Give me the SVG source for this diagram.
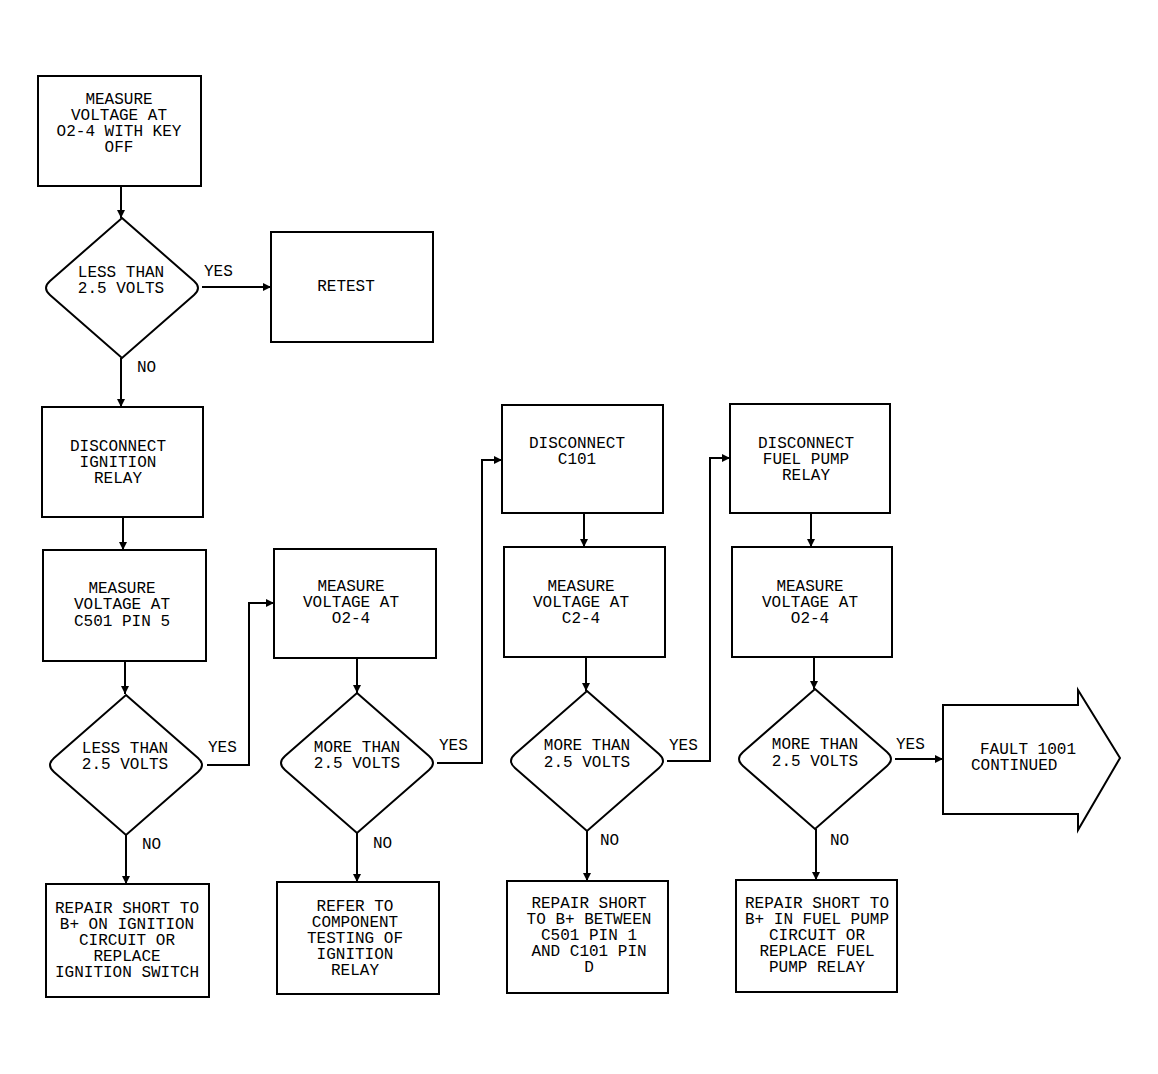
<svg xmlns="http://www.w3.org/2000/svg" xmlns:xlink="http://www.w3.org/1999/xlink" width="1158" height="1074" viewBox="0 0 1158 1074">
<style>
.box{fill:#fff;stroke:#000;stroke-width:2}
.t{font-family:"Liberation Mono","DejaVu Sans Mono",monospace;font-size:16px;fill:#000;text-anchor:middle}
.l{font-family:"Liberation Mono","DejaVu Sans Mono",monospace;font-size:16px;fill:#000}
.c{fill:none;stroke:#000;stroke-width:2}
</style>
<defs>
<marker id="ah" markerUnits="userSpaceOnUse" markerWidth="9" markerHeight="8" refX="8" refY="4" orient="auto">
<path d="M0,0 L8,4 L0,8 z" fill="#000"/>
</marker>
<path id="dia" d="M0,-70 L72,-7 Q80,0 72,7 L0,70 L-72,7 Q-80,0 -72,-7 Z"/>
</defs>
<rect width="1158" height="1074" fill="#fff"/>

<g id="connectors">
<path class="c" d="M121,186 V218" marker-end="url(#ah)"/>
<path class="c" d="M202,287 H271" marker-end="url(#ah)"/>
<path class="c" d="M121,358 V407" marker-end="url(#ah)"/>
<path class="c" d="M123,517 V550" marker-end="url(#ah)"/>
<path class="c" d="M125,661 V694" marker-end="url(#ah)"/>
<path class="c" d="M207,765 H249 V603 H274" marker-end="url(#ah)"/>
<path class="c" d="M126,835 V884" marker-end="url(#ah)"/>
<path class="c" d="M357,658 V693" marker-end="url(#ah)"/>
<path class="c" d="M437,763 H482 V460 H502" marker-end="url(#ah)"/>
<path class="c" d="M357,833 V882" marker-end="url(#ah)"/>
<path class="c" d="M584,513 V547" marker-end="url(#ah)"/>
<path class="c" d="M586,657 V691" marker-end="url(#ah)"/>
<path class="c" d="M667,761 H710 V458 H730" marker-end="url(#ah)"/>
<path class="c" d="M587,831 V881" marker-end="url(#ah)"/>
<path class="c" d="M811,513 V547" marker-end="url(#ah)"/>
<path class="c" d="M814,657 V689" marker-end="url(#ah)"/>
<path class="c" d="M895,759 H943" marker-end="url(#ah)"/>
<path class="c" d="M816,829 V880" marker-end="url(#ah)"/>
<text class="l" x="204" y="276">YES</text>
<text class="l" x="137" y="372">NO</text>
<text class="l" x="208" y="752">YES</text>
<text class="l" x="142" y="849">NO</text>
<text class="l" x="439" y="750">YES</text>
<text class="l" x="373" y="848">NO</text>
<text class="l" x="669" y="750">YES</text>
<text class="l" x="600" y="845">NO</text>
<text class="l" x="896" y="749">YES</text>
<text class="l" x="830" y="845">NO</text>
</g>

<g id="n1">
<rect class="box" x="38" y="76" width="163" height="110"/>
<text class="t" x="119" y="104">MEASURE</text>
<text class="t" x="119" y="120">VOLTAGE AT</text>
<text class="t" x="119" y="136">O2-4 WITH KEY</text>
<text class="t" x="119" y="152">OFF</text>
</g>
<g id="d1">
<use href="#dia" x="122" y="288" class="box"/>
<text class="t" x="121" y="277">LESS THAN</text>
<text class="t" x="121" y="293">2.5 VOLTS</text>
</g>
<g id="retest">
<rect class="box" x="271" y="232" width="162" height="110"/>
<text class="t" x="346" y="291">RETEST</text>
</g>
<g id="n2">
<rect class="box" x="42" y="407" width="161" height="110"/>
<text class="t" x="118" y="451">DISCONNECT</text>
<text class="t" x="118" y="467">IGNITION</text>
<text class="t" x="118" y="483">RELAY</text>
</g>
<g id="n3">
<rect class="box" x="43" y="550" width="163" height="111"/>
<text class="t" x="122" y="593">MEASURE</text>
<text class="t" x="122" y="609">VOLTAGE AT</text>
<text class="t" x="122" y="626">C501 PIN 5</text>
</g>
<g id="d2">
<use href="#dia" x="126" y="765" class="box"/>
<text class="t" x="125" y="753">LESS THAN</text>
<text class="t" x="125" y="769">2.5 VOLTS</text>
</g>
<g id="r1">
<rect class="box" x="46" y="884" width="163" height="113"/>
<text class="t" x="127" y="913">REPAIR SHORT TO</text>
<text class="t" x="127" y="929">B+ ON IGNITION</text>
<text class="t" x="127" y="945">CIRCUIT OR</text>
<text class="t" x="127" y="961">REPLACE</text>
<text class="t" x="127" y="977">IGNITION SWITCH</text>
</g>
<g id="n4">
<rect class="box" x="274" y="549" width="162" height="109"/>
<text class="t" x="351" y="591">MEASURE</text>
<text class="t" x="351" y="607">VOLTAGE AT</text>
<text class="t" x="351" y="623">O2-4</text>
</g>
<g id="d3">
<use href="#dia" x="357" y="763" class="box"/>
<text class="t" x="357" y="752">MORE THAN</text>
<text class="t" x="357" y="768">2.5 VOLTS</text>
</g>
<g id="r2">
<rect class="box" x="277" y="882" width="162" height="112"/>
<text class="t" x="355" y="911">REFER TO</text>
<text class="t" x="355" y="927">COMPONENT</text>
<text class="t" x="355" y="943">TESTING OF</text>
<text class="t" x="355" y="959">IGNITION</text>
<text class="t" x="355" y="975">RELAY</text>
</g>
<g id="n5">
<rect class="box" x="502" y="405" width="161" height="108"/>
<text class="t" x="577" y="448">DISCONNECT</text>
<text class="t" x="577" y="464">C101</text>
</g>
<g id="n6">
<rect class="box" x="504" y="547" width="161" height="110"/>
<text class="t" x="581" y="591">MEASURE</text>
<text class="t" x="581" y="607">VOLTAGE AT</text>
<text class="t" x="581" y="623">C2-4</text>
</g>
<g id="d4">
<use href="#dia" x="587" y="761" class="box"/>
<text class="t" x="587" y="750">MORE THAN</text>
<text class="t" x="587" y="767">2.5 VOLTS</text>
</g>
<g id="r3">
<rect class="box" x="507" y="881" width="161" height="112"/>
<text class="t" x="589" y="908">REPAIR SHORT</text>
<text class="t" x="589" y="924">TO B+ BETWEEN</text>
<text class="t" x="589" y="940">C501 PIN 1</text>
<text class="t" x="589" y="956">AND C101 PIN</text>
<text class="t" x="589" y="972">D</text>
</g>
<g id="n7">
<rect class="box" x="730" y="404" width="160" height="109"/>
<text class="t" x="806" y="448">DISCONNECT</text>
<text class="t" x="806" y="464">FUEL PUMP</text>
<text class="t" x="806" y="480">RELAY</text>
</g>
<g id="n8">
<rect class="box" x="732" y="547" width="160" height="110"/>
<text class="t" x="810" y="591">MEASURE</text>
<text class="t" x="810" y="607">VOLTAGE AT</text>
<text class="t" x="810" y="623">O2-4</text>
</g>
<g id="d5">
<use href="#dia" x="815" y="759" class="box"/>
<text class="t" x="815" y="749">MORE THAN</text>
<text class="t" x="815" y="766">2.5 VOLTS</text>
</g>
<g id="r4">
<rect class="box" x="736" y="880" width="161" height="112"/>
<text class="t" x="817" y="908">REPAIR SHORT TO</text>
<text class="t" x="817" y="924">B+ IN FUEL PUMP</text>
<text class="t" x="817" y="940">CIRCUIT OR</text>
<text class="t" x="817" y="956">REPLACE FUEL</text>
<text class="t" x="817" y="972">PUMP RELAY</text>
</g>
<g id="cont">
<path class="box" d="M943,705 H1078 V690 L1120,758 L1078,830 V814 H943 Z"/>
<text class="l" x="980" y="754">FAULT 1001</text>
<text class="l" x="971" y="770">CONTINUED</text>
</g>
</svg>
